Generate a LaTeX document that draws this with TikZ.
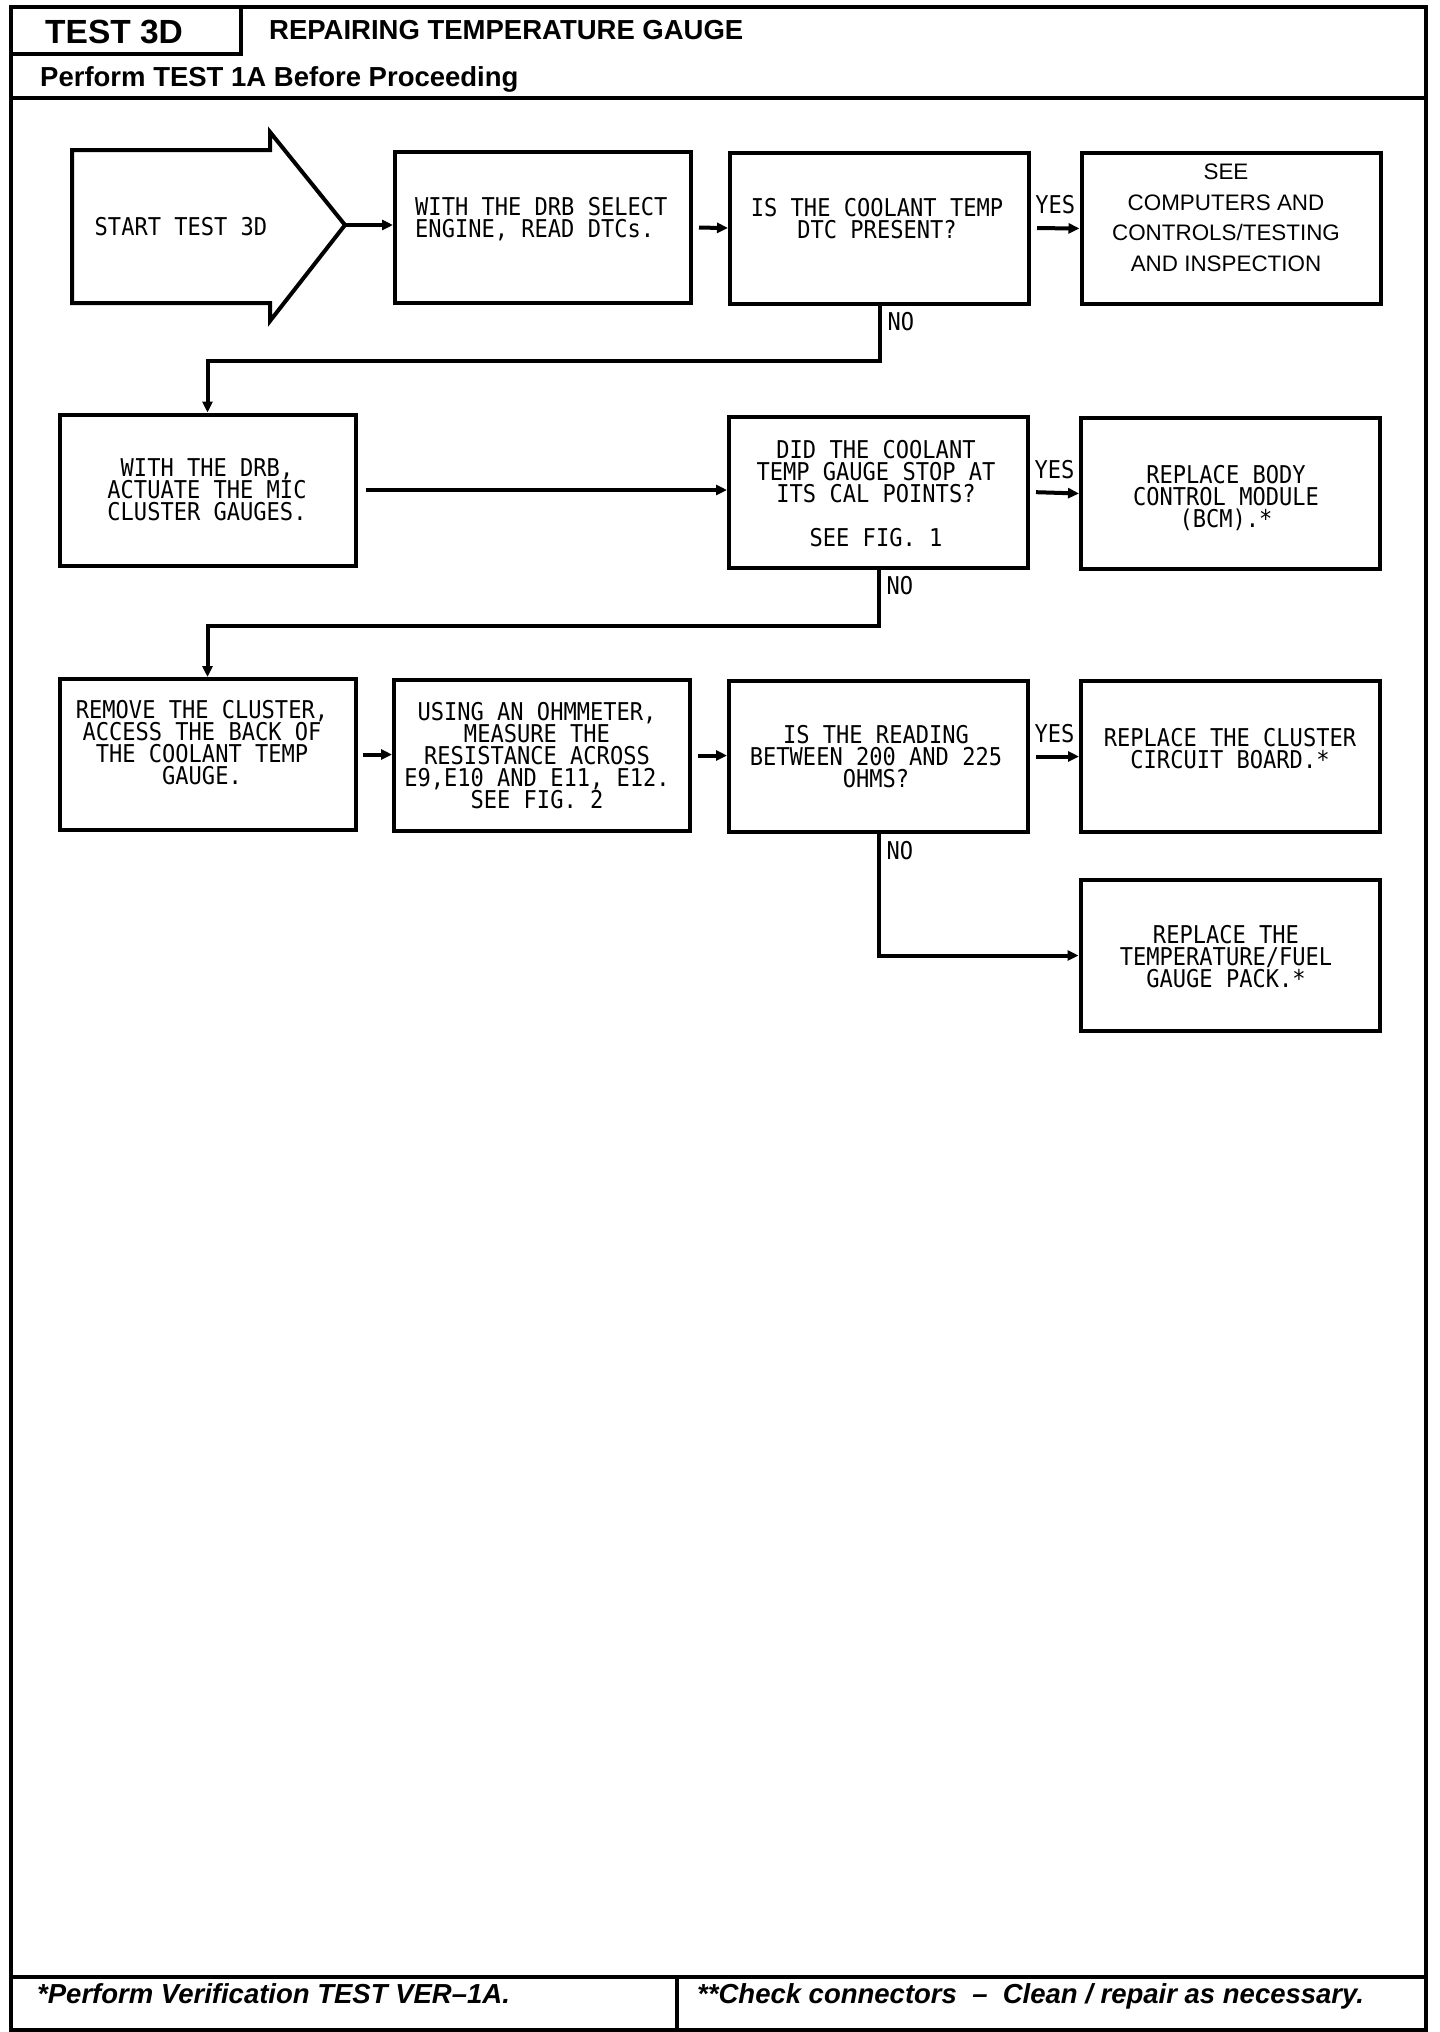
\documentclass[tikz,border=0pt]{standalone}
\usepackage{fontspec}
\setmainfont{Liberation Sans}
\newfontfamily\plotfont[FakeStretch=0.9]{DejaVu Sans Mono}
\usetikzlibrary{arrows.meta}
\newcommand\rsplotsize{\fontsize{24.5}{22}\selectfont\lineskiplimit=-40pt\relax}
\tikzset{
  frame/.style={line width=4pt},
  box/.style={draw, line width=4pt, minimum width=299pt, minimum height=151pt, inner sep=0pt},
  narrow/.style={minimum width=296pt},
  plot/.style={font=\plotfont\rsplotsize, align=center, inner sep=0pt},
  lbl/.style={font=\plotfont\rsplotsize, inner sep=0pt},
  yes/.style={lbl, midway, above=12pt},
  conn/.style={line width=4pt, -{Triangle[length=11pt,width=10pt]}},
  hdr/.style={anchor=base west, inner sep=0pt, font=\bfseries\fontsize{27.5}{30}\selectfont},
  ftr/.style={anchor=base west, inner sep=0pt, font=\bfseries\itshape\fontsize{27.5}{30}\selectfont},
}
\begin{document}
\begin{tikzpicture}[x=1pt,y=-1pt]
\useasboundingbox (0,0) rectangle (1440,2032);
% frame
\draw[frame] (11,7) rectangle (1426,2030);
\draw[frame] (241,7) -- (241,54) -- (11,54);
\draw[frame] (11,98) -- (1426,98);
\draw[frame] (11,1977) -- (1426,1977);
\draw[frame] (677,1977) -- (677,2030);
% header texts
\node[hdr, font=\bfseries\fontsize{33.5}{36}\selectfont] (t1) at (45,43) {TEST 3D};
\node[hdr] (t2) at (269,39) {REPAIRING TEMPERATURE GAUGE};
\node[hdr] (t3) at (40,86) {Perform TEST 1A Before Proceeding};
\node[ftr] (f1) at (37,2003) {*Perform Verification TEST VER–1A.};
\node[ftr] (f2) at (697,2003) {**Check connectors~~–~~Clean / repair as necessary.};
% start arrow
\draw[frame] (72,150) -- (270,150) -- (270,132) -- (345,225) -- (270,321) -- (270,303) -- (72,303) -- cycle;
\coordinate (tip) at (345,225);
\node[plot, anchor=north] (s1) at (181,217) {START TEST 3D};
% boxes
\node[box, narrow] (b2) at (543,227.5) {};
\node[box] (b3) at (879.5,228) {};
\node[box] (b4) at (1231,228.5) {};
\node[box, narrow] (b5) at (207.5,490) {};
\node[box] (b6) at (878.5,492) {};
\node[box] (b7) at (1230.5,493.5) {};
\node[box, narrow] (b9) at (207.5,754.5) {};
\node[box, narrow] (b10) at (542,755.5) {};
\node[box] (b11) at (878.5,756.5) {};
\node[box] (b12) at (1230.5,756.5) {};
\node[box] (b13) at (1230,955.5) {};
% box texts
\node[plot, align=left, anchor=north west] (x2) at (415,197) {WITH THE DRB SELECT\\ENGINE, READ DTCs.};
\node[plot, anchor=north] (x3) at (877,198) {IS THE COOLANT TEMP\\DTC PRESENT?};
\node[anchor=north, align=center, inner sep=0pt, font=\fontsize{22.4}{30.5}\selectfont] (x4) at (1226,164) {SEE\\COMPUTERS AND\\CONTROLS/TESTING\\AND INSPECTION};
\node[plot, anchor=north] (x5) at (207,458) {WITH THE DRB,\\ACTUATE THE MIC\\CLUSTER GAUGES.};
\node[plot, anchor=north] (x6) at (876,440) {DID THE COOLANT\\TEMP GAUGE STOP AT\\ITS CAL POINTS?\\[22pt]SEE FIG. 1};
\node[plot, anchor=north] (x7) at (1226,465) {REPLACE BODY\\CONTROL MODULE\\(BCM).*};
\node[plot, anchor=north] (x9) at (202,700) {REMOVE THE CLUSTER,\\ACCESS THE BACK OF\\THE COOLANT TEMP\\GAUGE.};
\node[plot, anchor=north] (x10) at (537,702) {USING AN OHMMETER,\\MEASURE THE\\RESISTANCE ACROSS\\E9,E10 AND E11, E12.\\SEE FIG. 2};
\node[plot, anchor=north] (x11) at (876,725) {IS THE READING\\BETWEEN 200 AND 225\\OHMS?};
\node[plot, anchor=north] (x12) at (1230,728) {REPLACE THE CLUSTER\\CIRCUIT BOARD.*};
\node[plot, anchor=north] (x13) at (1226,925) {REPLACE THE\\TEMPERATURE/FUEL\\GAUGE PACK.*};
% connectors
\draw[conn] (tip) -- (tip -| b2.west);
\draw[conn, shorten <=6pt] (b2.east) -- (b3.west);
\draw[conn, shorten <=6pt] (b3.east) -- node[yes] {YES} (b4.west);
\draw[conn] (b3.south) -- ++(0,55) -| (b5.north);
\node[lbl, anchor=north west] (n1) at ([xshift=8pt,yshift=-7pt]b3.south) {NO};
\draw[conn, shorten <=8pt] (b5.east) -- (b5.east -| b6.west);
\draw[conn, shorten <=6pt] (b6.east) -- node[yes] {YES} (b7.west);
\draw[conn] (b6.south) -- ++(0,56) -| (b9.north);
\node[lbl, anchor=north west] (n2) at ([xshift=8pt,yshift=-7pt]b6.south) {NO};
\draw[conn, shorten <=5pt] (b9.east) -- (b9.east -| b10.west);
\draw[conn, shorten <=6pt] (b10.east) -- (b10.east -| b11.west);
\draw[conn, shorten <=6pt] (b11.east) -- node[yes] {YES} (b12.west);
\draw[conn] (b11.south) |- (b13.west);
\node[lbl, anchor=north west] (n3) at ([xshift=8pt,yshift=-7pt]b11.south) {NO};
\end{tikzpicture}
\end{document}
